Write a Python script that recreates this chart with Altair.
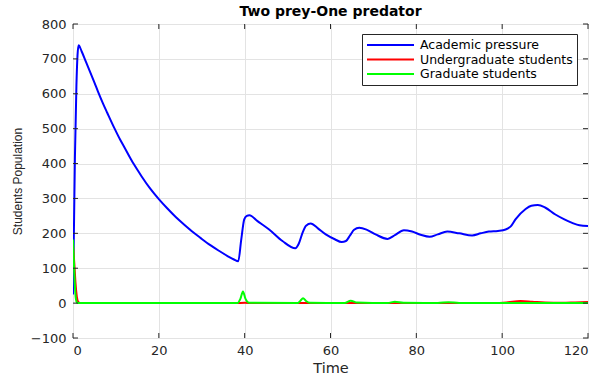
import altair as alt
import pandas as pd

# Time grid and values for each population
t_pressure = [0, 0.25, 0.45, 0.8, 1.05, 1.3, 2, 3, 4, 5, 5.8, 7, 8, 9.7, 11, 12, 13.6, 15, 16, 18, 20,
              22, 24, 26, 28, 30, 32, 34, 36, 37.5, 38.5, 39.2, 39.9, 40.5, 41.1, 43, 45.7, 48.8, 51.8,
              52.6, 53.5, 54.3, 55.4, 57, 58.9, 61, 62.6, 63.6, 64.6, 65.5, 66.7, 68.5, 70.5, 73.3, 75,
              77.1, 79, 81, 83.1, 85, 87.2, 90, 93, 95, 96.9, 99, 100.8, 102, 103.1, 105.4, 106.8, 108.3,
              110, 112.4, 114.5, 116.3, 118, 120]
v_pressure = [25, 240, 420, 625, 710, 739, 722, 692, 662, 632, 607, 572, 545, 500, 468, 446, 410, 382, 363,
              328, 298, 271, 246, 224, 203, 184, 166, 150, 135, 125, 120, 182, 240, 250, 252, 235, 211, 178,
              157, 170, 202, 222, 228, 215, 197, 183, 175, 178, 195, 210, 216, 210, 197, 184, 195, 209,
              205, 196, 190, 197, 205, 200, 194, 200, 205, 207, 211, 220, 240, 269, 279, 281, 274, 254,
              240, 230, 223, 221]

t_under = [0, 0.3, 0.6, 0.9, 1.2, 1.6, 2.5, 38, 40, 42, 52, 54, 56, 64, 66, 68, 98, 101, 104.3, 107, 110,
           114, 117, 120]
v_under = [168, 115, 55, 18, 4, 0.5, 0, 0, 1, 0, 0, 0.5, 0, 0, 0.5, 0, 0.5, 2, 6, 4, 1.5, 1, 2, 3]

t_grad = [0, 0.2, 0.4, 0.6, 0.8, 1.0, 1.5, 38.3, 39.0, 39.6, 40.2, 41, 52.3, 53.0, 53.6, 54.3, 55.2,
          63.3, 64.7, 66.2, 73.3, 75, 77, 85, 87.5, 90, 120]
v_grad = [182, 120, 60, 20, 5, 1, 0, 0, 12, 33, 12, 1, 0, 7, 14, 6, 1,
          0, 7, 1.5, 0, 4, 1, 0.5, 2.5, 0.5, 0]

series_names = ["Academic pressure", "Undergraduate students", "Graduate students"]
series_colors = ["#0000ff", "#ff0000", "#00ff00"]
x_ticks = [0, 20, 40, 60, 80, 100, 120]
y_ticks = [-100, 0, 100, 200, 300, 400, 500, 600, 700, 800]

W, H = 515, 314
FONT = "DejaVu Sans"
AXIS_COLOR = "#262626"


def frame(ts, vs, name):
    return pd.DataFrame({"t": ts, "v": vs, "series": name})


x_enc = alt.X("t:Q", scale=alt.Scale(domain=[0, 120], nice=False, zero=False),
              axis=alt.Axis(values=x_ticks, title="Time", grid=True, ticks=False, tickSize=0,
                            domain=False, labelPadding=6, titlePadding=4))
y_enc = alt.Y("v:Q", scale=alt.Scale(domain=[-100, 800], nice=False, zero=False),
              axis=alt.Axis(values=y_ticks, title="Students Population", grid=True, ticks=False,
                            tickSize=0, domain=False, labelPadding=7, titlePadding=6,
                            titleFont="Liberation Sans", titleFontSize=12))
color_enc = alt.Color("series:N",
                      scale=alt.Scale(domain=series_names, range=series_colors),
                      legend=alt.Legend(title=None, orient="none", legendX=289, legendY=10,
                                        symbolType="stroke", symbolSize=2209, symbolStrokeWidth=2,
                                        labelFont=FONT, labelFontSize=12.5, labelColor="black",
                                        strokeColor=AXIS_COLOR, fillColor="white", padding=4,
                                        clipHeight=14, rowPadding=0.5, labelOffset=5,
                                        symbolOffset=0))


def line(df):
    return alt.Chart(df).mark_line(strokeWidth=2, interpolate="monotone", clip=True).encode(
        x=x_enc, y=y_enc, color=color_enc)


lines = [line(frame(t_pressure, v_pressure, series_names[0])),
         line(frame(t_under, v_under, series_names[1])),
         line(frame(t_grad, v_grad, series_names[2]))]

# Inward ticks on all four sides of the box
xt = pd.DataFrame({"t": x_ticks})
yt = pd.DataFrame({"v": y_ticks})
tick_style = dict(color=AXIS_COLOR, strokeWidth=1)
ticks_bottom = alt.Chart(xt).mark_rule(**tick_style).encode(x=x_enc, y=alt.value(H), y2=alt.value(H - 5))
ticks_top = alt.Chart(xt).mark_rule(**tick_style).encode(x=x_enc, y=alt.value(0), y2=alt.value(5))
ticks_left = alt.Chart(yt).mark_rule(**tick_style).encode(y=y_enc, x=alt.value(0), x2=alt.value(5))
ticks_right = alt.Chart(yt).mark_rule(**tick_style).encode(y=y_enc, x=alt.value(W), x2=alt.value(W - 5))

chart = alt.layer(
    *lines, ticks_bottom, ticks_top, ticks_left, ticks_right
).properties(
    width=W, height=H,
    background="white",
    title=alt.TitleParams("Two prey-One predator", font=FONT, fontSize=14, fontWeight="bold",
                          color="black", anchor="middle", offset=3, dy=4),
    autosize=alt.AutoSizeParams(type="none"),
    padding={"left": 73, "top": 24, "right": 21, "bottom": 40},
).configure_view(
    stroke=AXIS_COLOR, strokeWidth=1
).configure_axis(
    labelFont=FONT, labelFontSize=13, labelColor=AXIS_COLOR,
    titleFont=FONT, titleFontSize=14.5, titleColor=AXIS_COLOR, titleFontWeight="normal",
    gridColor="#e3e3e3", gridWidth=1
)

chart.save("out.html", embed_options={"renderer": "svg", "actions": False})
